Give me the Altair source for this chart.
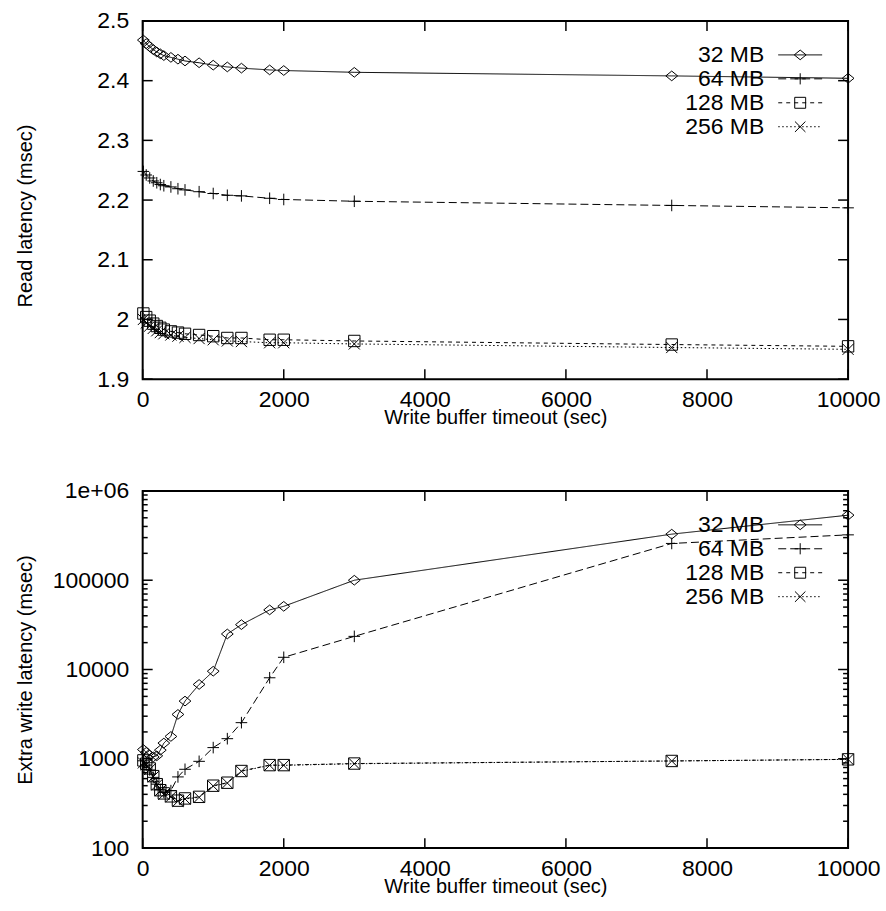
import altair as alt
import pandas as pd

FONT = "Liberation Sans"
FS = 23
TFS = 20

series = ["32 MB", "64 MB", "128 MB", "256 MB"]
timeout = [10, 50, 100, 150, 200, 250, 300, 400, 500, 600, 800, 1000, 1200, 1400, 1800, 2000, 3000, 7500, 10000]

read_32 = [2.468, 2.462, 2.457, 2.452, 2.448, 2.445, 2.442, 2.439, 2.436, 2.433, 2.430, 2.426, 2.423, 2.421, 2.418, 2.417, 2.414, 2.408, 2.404]
read_64 = [2.248, 2.242, 2.237, 2.232, 2.229, 2.226, 2.224, 2.222, 2.219, 2.217, 2.214, 2.211, 2.208, 2.207, 2.203, 2.201, 2.198, 2.191, 2.187]
read_128 = [2.010, 2.004, 1.998, 1.993, 1.989, 1.986, 1.983, 1.980, 1.978, 1.976, 1.974, 1.972, 1.969, 1.969, 1.966, 1.966, 1.964, 1.958, 1.955]
read_256 = [2.000, 1.994, 1.989, 1.985, 1.981, 1.978, 1.976, 1.974, 1.972, 1.970, 1.968, 1.966, 1.964, 1.963, 1.961, 1.961, 1.959, 1.953, 1.950]

extra_32 = [1270, 1180, 1100, 1050, 1080, 1250, 1500, 1780, 3140, 4430, 6800, 9570, 25000, 31800, 46500, 51000, 100000, 328000, 535000]
extra_64 = [950, 850, 750, 620, 520, 450, 420, 440, 627, 763, 937, 1335, 1680, 2540, 8080, 13700, 23500, 258000, 322000]
extra_128 = [960, 880, 780, 640, 520, 445, 410, 380, 340, 360, 375, 500, 540, 730, 850, 850, 885, 946, 986]
extra_256 = [900, 860, 760, 630, 510, 440, 400, 375, 335, 355, 370, 495, 535, 725, 845, 845, 880, 945, 985]

x_ticks = [0, 2000, 4000, 6000, 8000, 10000]
read_ticks = [1.9, 2.0, 2.1, 2.2, 2.3, 2.4, 2.5]
extra_ticks = [100, 1000, 10000, 100000, 1000000]
extra_minor = [m * 10 ** k for k in range(2, 6) for m in range(2, 10)]

dashes = [[1, 0], [8, 4], [4, 4], [1.5, 2.5]]
shapes = ["M-1,0L0,-0.82L1,0L0,0.82Z", "M-1,0L1,0M0,-1L0,1", "square", "M-1,-1L1,1M-1,1L1,-1"]
sizes = [140, 125, 120, 110]

W = 707
H1 = 359
H2 = 358
LEG_Y = [34, 58, 82, 106]


def long_df(cols):
    rows = []
    for s, vals in zip(series, cols):
        for t, v in zip(timeout, vals):
            rows.append({"series": s, "timeout": t, "latency": v})
    return pd.DataFrame(rows)


def panel(cols, yscale, yaxis, ymajor, yminor, H):
    df = long_df(cols)
    xscale = alt.Scale(domain=[0, 10000], nice=False, zero=False)
    xaxis = alt.Axis(values=x_ticks, title="Write buffer timeout (sec)", format="d",
                     labelPadding=9, titleY=38, titleBaseline="middle")
    x = alt.X("timeout:Q", scale=xscale, axis=xaxis)
    y = alt.Y("latency:Q", scale=yscale, axis=yaxis)
    base = alt.Chart(df)
    lines = base.mark_line(color="black", strokeWidth=1).encode(
        x=x, y=y,
        strokeDash=alt.StrokeDash("series:N", scale=alt.Scale(domain=series, range=dashes), legend=None),
    )
    points = base.mark_point(filled=False, color="black", strokeWidth=1, opacity=1).encode(
        x=x, y=y,
        shape=alt.Shape("series:N", scale=alt.Scale(domain=series, range=shapes), legend=None),
        size=alt.Size("series:N", scale=alt.Scale(domain=series, range=sizes), legend=None),
    )
    layers = [lines, points]

    xt = pd.DataFrame({"timeout": x_ticks})
    layers.append(alt.Chart(xt).mark_rule(color="black", strokeWidth=1.5).encode(x=x, y=alt.value(0), y2=alt.value(10)))
    layers.append(alt.Chart(xt).mark_rule(color="black", strokeWidth=1.5).encode(x=x, y=alt.value(H), y2=alt.value(H - 10)))

    yt = pd.DataFrame({"latency": ymajor})
    layers.append(alt.Chart(yt).mark_rule(color="black", strokeWidth=1.5).encode(y=y, x=alt.value(0), x2=alt.value(10)))
    layers.append(alt.Chart(yt).mark_rule(color="black", strokeWidth=1.5).encode(y=y, x=alt.value(W), x2=alt.value(W - 10)))
    if yminor:
        ym = pd.DataFrame({"latency": yminor})
        layers.append(alt.Chart(ym).mark_rule(color="black", strokeWidth=1.5).encode(y=y, x=alt.value(0), x2=alt.value(5)))
        layers.append(alt.Chart(ym).mark_rule(color="black", strokeWidth=1.5).encode(y=y, x=alt.value(W), x2=alt.value(W - 5)))

    for i, s in enumerate(series):
        d = pd.DataFrame({"series": [s]})
        ly = LEG_Y[i]
        layers.append(alt.Chart(d).mark_text(align="right", baseline="middle", font=FONT, fontSize=FS).encode(
            x=alt.value(623), y=alt.value(ly), text="series:N"))
        layers.append(alt.Chart(d).mark_rule(color="black", strokeWidth=1, strokeDash=dashes[i]).encode(
            x=alt.value(637), x2=alt.value(681), y=alt.value(ly)))
        layers.append(alt.Chart(d).mark_point(shape=shapes[i], filled=False, color="black", strokeWidth=1,
                                              size=sizes[i], opacity=1).encode(x=alt.value(659), y=alt.value(ly)))

    return alt.layer(*layers).properties(width=W, height=H)


top = panel(
    [read_32, read_64, read_128, read_256],
    alt.Scale(domain=[1.9, 2.5], nice=False, zero=False),
    alt.Axis(values=read_ticks, format="~g", title="Read latency (msec)", labelPadding=14,
             titleX=-117, titleY=195, titleBaseline="middle", titleAngle=-90),
    read_ticks, None, H1,
)

bottom = panel(
    [extra_32, extra_64, extra_128, extra_256],
    alt.Scale(type="log", domain=[100, 1000000], nice=False),
    alt.Axis(values=extra_ticks, title="Extra write latency (msec)", labelPadding=14,
             labelExpr="datum.value >= 1000000 ? '1e+06' : format(datum.value, 'd')",
             titleX=-117, titleY=179, titleBaseline="middle", titleAngle=-90),
    extra_ticks, extra_minor, H2,
)

chart = alt.vconcat(top, bottom, spacing=51).properties(
    padding={"left": 15, "top": 8, "right": 5, "bottom": 5}
).configure_view(
    stroke="black", strokeWidth=2
).configure_axis(
    grid=False, ticks=False, domain=False, labelFlush=False,
    labelFont=FONT, labelFontSize=FS, labelColor="black",
    titleFont=FONT, titleFontSize=TFS, titleFontWeight="normal", titleColor="black",
)

chart.save("out.html", embed_options={"renderer": "svg", "actions": False})
